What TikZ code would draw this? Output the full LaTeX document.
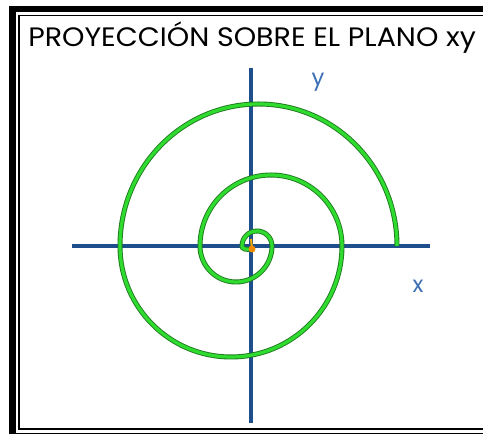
\documentclass[tikz,border=0pt]{standalone}
\usepackage{fontspec}
\setmainfont{Poppins}
\definecolor{axisblue}{HTML}{1F4E8C}
\definecolor{lblblue}{HTML}{3C6EB4}
\definecolor{spgreen}{HTML}{2EDB2E}
\definecolor{spdark}{HTML}{1F7A1F}
\definecolor{dotorange}{HTML}{F08C00}
\begin{document}
\begin{tikzpicture}[x=0.75pt,y=-0.75pt,
  axis/.style={draw=axisblue,line width=3.5*0.75pt},
  axlabel/.style={text=lblblue,inner sep=0pt,font=\fontsize{17}{19}\selectfont},
  spiralunder/.style={draw=spdark,line width=5*0.75pt},
  spiraltop/.style={draw=spgreen,line width=3.2*0.75pt},
]
\useasboundingbox (0,0) rectangle (483,434);
\fill[white] (0,0) rectangle (483,434);
% frame
\draw[line width=6.5*0.75pt] (12.5,9) rectangle (520,436);
\draw[line width=1.5*0.75pt] (19,15.5) rectangle (510,429);
% title
\node[anchor=base west,inner sep=0pt,xscale=1.07,font=\fontsize{20}{22}\selectfont] (title) at (28,47) {PROYECCIÓN SOBRE EL PLANO xy};
% axes
\coordinate (xl) at (72,246);
\coordinate (xr) at (430,246);
\coordinate (yt) at (251,68);
\coordinate (yb) at (251,423);
\draw[axis] (xl) -- (xr);
\draw[axis] (yt) -- (yb);
\node[axlabel] (ylab) at (318,82) {y};
\node[axlabel] (xlab) at (418,286) {x};
% spiral
\coordinate (s0) at (252,249);
\foreach \st in {spiralunder,spiraltop}{
\draw[\st] (s0) .. controls (246,250) and (242,249) .. (242,246)
  arc[start angle=180,end angle=360,radius=15]
  arc[start angle=0,end angle=180,radius=36]
  arc[start angle=180,end angle=360,radius=71]
  arc[start angle=0,end angle=180,radius=111]
  arc[start angle=180,end angle=360,x radius=138.5,y radius=142];
}
% orange point
\draw[dotorange!70!yellow,line width=2*0.75pt] (251,239) -- (s0);
\fill[dotorange] (s0) circle[radius=3.5];
\end{tikzpicture}
\end{document}
